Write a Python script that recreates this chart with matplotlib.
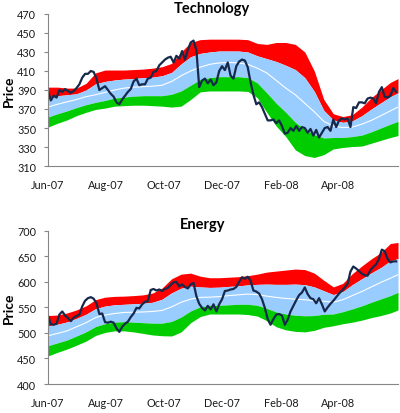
import matplotlib
matplotlib.use('Agg')
import matplotlib.pyplot as plt
import pandas as pd

plt.rcParams['font.family'] = ['Lato', 'DejaVu Sans']

# sample dates: bands every 10 days, price every 3 days
band_dates = pd.date_range('2007-06-01', periods=37, freq='10D').append(pd.DatetimeIndex(['2008-06-03']))
price_dates = pd.date_range('2007-06-01', periods=123, freq='3D')

tick_dates = pd.to_datetime(['2007-06-01', '2007-08-01', '2007-10-01', '2007-12-01', '2008-02-01', '2008-04-01'])
tick_labels = ['Jun-07', 'Aug-07', 'Oct-07', 'Dec-07', 'Feb-08', 'Apr-08']

# ---- Technology ----
tech_mid = [372, 375, 377.5, 380, 383, 385, 387.5, 390, 392, 393, 393.5, 394, 395, 399, 405, 410, 414, 417, 418.5,
            419, 418.5, 417, 413, 408, 400, 392, 385, 376, 367, 357, 352, 350.5, 351, 354, 358, 363, 368, 372]
tech_up2 = [393, 393, 392, 392, 397, 408, 411, 411, 411, 411.5, 412, 413, 414.5, 418, 430, 440, 443, 443.5, 443.5,
            443.5, 443.5, 443, 439, 438, 440, 440, 438, 430, 410, 380, 365, 362, 364, 372, 382, 390, 398, 402]
tech_up1 = [382.5, 384, 385, 386, 390, 396.5, 399, 400.5, 401.5, 402, 403, 403.5, 405, 408.5, 417.5, 425, 428.5, 430,
            431, 431, 431, 430, 426, 423, 420, 416, 411.5, 403, 388.5, 368.5, 358.5, 356, 357.5, 363, 370, 376.5, 383, 387]
tech_lo1 = [361.5, 365, 368, 371.5, 374.5, 377, 379, 381.5, 382.5, 383.5, 384, 384, 384, 385.5, 389, 395, 401, 403,
            404, 404, 404, 403, 397.5, 387, 376, 366.5, 356, 348.5, 343, 339.5, 340, 340, 341, 342.5, 346, 350, 354, 357]
tech_lo2 = [351, 355, 358.5, 363, 366.5, 369.5, 371, 373, 373.5, 374, 374, 373.5, 373, 372, 373, 380, 388, 389, 389,
            389, 389, 388.5, 382, 366.5, 352, 341, 327, 321, 319, 322, 328, 329.5, 330.5, 331, 334, 337, 340, 342]
tech_price = [389, 379, 384, 382, 390, 388, 391, 389, 387, 389,
              392, 396, 403, 407, 407, 410, 409, 402, 390, 392,
              394, 390, 386, 383, 377, 375, 380, 384, 388, 391,
              399, 402, 395, 396, 396, 402, 403, 409, 410, 416,
              419, 422, 424, 425, 419, 426, 423, 431, 422, 432,
              440, 442, 432, 393, 400, 402, 397, 401, 395, 398,
              410, 415, 411, 419, 405, 402, 415, 420, 422, 421,
              414, 398, 385, 375, 377, 372, 365, 358, 358, 359,
              355, 358, 352, 344, 345, 350, 347, 352, 347, 351,
              350, 345, 349, 342, 348, 340, 345, 350, 351, 347,
              359, 351, 358, 360, 359, 360, 351, 372, 371, 377,
              377, 376, 381, 382, 381, 376, 388, 393, 383, 382,
              384, 392, 388]
tech_yticks = [310, 330, 350, 370, 390, 410, 430, 450, 470]

# ---- Energy ----
en_mid = [494.5, 499, 504, 512, 520, 530, 535, 538, 540, 540.5, 541, 542, 544, 551, 560, 566, 569.5, 570, 571,
          573, 574.5, 576, 575, 572, 569.5, 567.5, 566, 565, 563, 562, 560, 565, 573, 581, 590, 599, 607, 614]
en_up2 = [534, 535, 539, 545, 553, 565, 570, 571.5, 572, 573, 574.5, 578, 588, 606, 615, 617, 611, 608, 608,
          609, 610, 612, 615, 619, 621, 623, 625, 624, 617, 603, 590, 597, 616, 631, 645, 657, 675, 677]
en_up1 = [514, 517, 521.5, 528.5, 536.5, 547.5, 552.5, 555, 556, 557, 558, 560, 566, 578.5, 587.5, 591.5, 590, 589,
          589.5, 591, 592, 594, 595, 595.5, 595, 595, 595.5, 594.5, 590, 582.5, 575, 581, 594.5, 606, 617.5, 628, 641, 645.5]
en_lo1 = [475, 480.5, 486, 494, 502, 512.5, 518, 521, 522, 521, 520, 519, 519, 522.5, 531, 543, 551, 553.5, 554,
          555, 556, 556, 554, 548, 541, 537, 534.5, 533.5, 534, 536.5, 537, 541.5, 547, 553, 560, 566.5, 573, 579.5]
en_lo2 = [455, 462, 468.5, 476, 484, 495, 501, 504, 504, 502, 499, 496, 494.5, 494, 502, 520, 532, 537, 537,
          537, 537, 536, 533, 524, 512, 506, 503, 502, 505, 511, 514, 518, 521, 525, 530, 534, 539, 545]
en_price = [534, 517, 516, 518, 536, 542, 534, 529, 523, 530,
            533, 536, 552, 563, 568, 570, 567, 558, 537, 538,
            521, 520, 522, 520, 509, 502, 512, 518, 522, 531,
            538, 549, 548, 556, 561, 562, 584, 586, 583, 585,
            582, 586, 588, 594, 599, 600, 591, 595, 590, 587,
            595, 598, 572, 557, 549, 544, 553, 546, 556, 542,
            556, 566, 582, 583, 585, 586, 590, 600, 609, 606,
            610, 602, 583, 581, 577, 566, 549, 527, 516, 527,
            536, 537, 534, 516, 526, 542, 553, 564, 574, 579,
            589, 576, 568, 566, 558, 568, 556, 542, 550, 557,
            563, 570, 577, 583, 589, 596, 620, 630, 626, 621,
            616, 613, 612, 623, 629, 634, 645, 663, 660, 645,
            638, 640, 640]
en_yticks = [400, 450, 500, 550, 600, 650, 700]


def draw_panel(ax, mid, up1, up2, lo1, lo2, price, yticks):
    ax.fill_between(band_dates, up1, up2, color='#FF0000', lw=0)
    ax.fill_between(band_dates, lo1, up1, color='#99CCFF', lw=0)
    ax.fill_between(band_dates, lo2, lo1, color='#00CC00', lw=0)
    ax.plot(band_dates, mid, color='white', lw=0.8)
    ax.plot(price_dates, price, color='#17294A', lw=1.6)

    ax.set_xlim(pd.Timestamp('2007-06-01'), pd.Timestamp('2008-06-03'))
    ax.set_ylim(yticks[0], yticks[-1])
    ax.set_yticks(yticks)
    ax.set_xticks(tick_dates)
    ax.set_xticklabels(tick_labels)
    for s in ['top', 'right']:
        ax.spines[s].set_visible(False)
    for s in ['left', 'bottom']:
        ax.spines[s].set_color('#868686')
        ax.spines[s].set_linewidth(0.8)
    ax.tick_params(axis='y', length=3, width=0.8, color='#868686', pad=5.5, labelsize=7.8, labelcolor='#1a1a1a')
    ax.tick_params(axis='x', length=0, pad=9.5, labelsize=7.8, labelcolor='#1a1a1a')


fig = plt.figure(figsize=(4, 4.14), dpi=100)
ax1 = fig.add_axes([0.12, 0.5966, 0.875, 0.3672])
ax2 = fig.add_axes([0.12, 0.07, 0.875, 0.3703])

draw_panel(ax1, tech_mid, tech_up1, tech_up2, tech_lo1, tech_lo2, tech_price, tech_yticks)
draw_panel(ax2, en_mid, en_up1, en_up2, en_lo1, en_lo2, en_price, en_yticks)

fig.text(212 / 400, 1 - 13 / 414, 'Technology', ha='center', va='baseline', fontsize=10.5, fontweight='bold')
fig.text(203 / 400, 1 - 229.5 / 414, 'Energy', ha='center', va='baseline', fontsize=10.5, fontweight='bold')
fig.text(8.5 / 400, 1 - 91 / 414, 'Price', rotation=90, ha='center', va='center', fontsize=10, fontweight='bold')
fig.text(8.5 / 400, 1 - 308 / 414, 'Price', rotation=90, ha='center', va='center', fontsize=10, fontweight='bold')

fig.savefig('out.png', dpi=100)
